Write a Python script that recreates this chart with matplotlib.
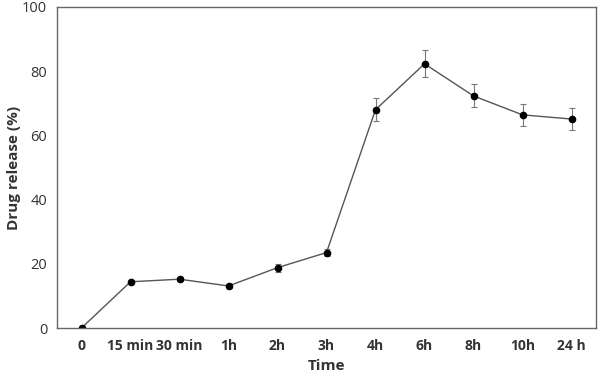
import numpy as np
import matplotlib.pyplot as plt

labels = ['0', '15 min', '30 min', '1h', '2h', '3h', '4h', '6h', '8h', '10h', '24 h']
release = [0, 14.4, 15.2, 13.1, 18.8, 23.5, 68.0, 82.3, 72.3, 66.4, 65.1]
err = [0, 0.7, 0.7, 0.5, 1.2, 1.2, 3.5, 4.2, 3.6, 3.4, 3.4]

plt.rcParams['font.family'] = ['Open Sans', 'DejaVu Sans']

fig = plt.figure(figsize=(5.98, 3.78), dpi=100)
ax = fig.add_axes([57/598, 1-328/378, (596-57)/598, (328-7)/378])

x = np.arange(len(labels))
ax.errorbar(x, release, yerr=err, color='#555555', lw=1, capsize=2.5,
            elinewidth=0.8, ecolor='#777777', capthick=0.8,
            marker='o', ms=4.5, mfc='black', mec='black')

ax.set_xlim(-0.5, len(labels) - 0.5)
ax.set_ylim(0, 100)
ax.set_yticks([0, 20, 40, 60, 80, 100])
ax.set_xticks(x)
ax.set_xticklabels(labels, fontweight='bold', fontsize=10, color='#333333')
ax.tick_params(axis='y', labelsize=10.5, labelcolor='#333333', length=0, pad=7)
ax.tick_params(axis='x', length=0, pad=8)
for s in ax.spines.values():
    s.set_color('#666666')
    s.set_linewidth(1)

ax.set_xlabel('Time', fontweight='bold', fontsize=11, color='#333333')
ax.set_ylabel('Drug release (%)', fontweight='bold', fontsize=11, color='#333333')
ax.xaxis.set_label_coords(0.5, -31/321)
ax.yaxis.set_label_coords(-36/539, 0.5)

fig.savefig('out.png', dpi=100)
